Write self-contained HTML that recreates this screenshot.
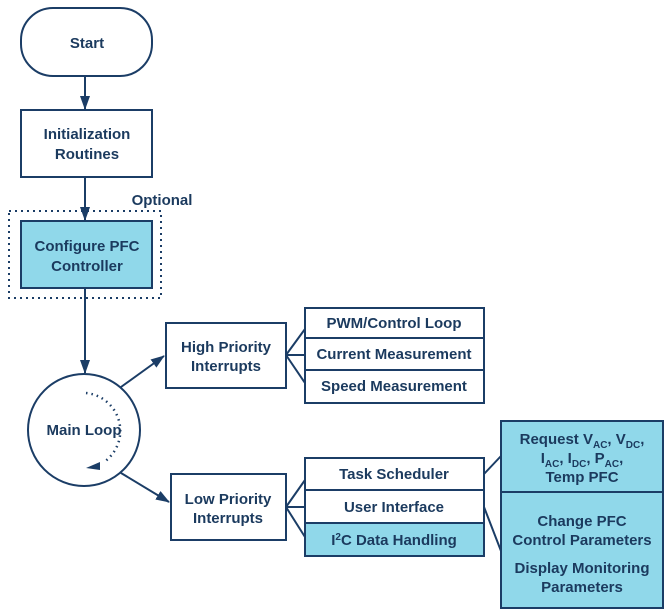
<!DOCTYPE html>
<html><head><style>
body{margin:0;background:#fff;}
svg{display:block;font-family:"Liberation Sans",sans-serif;font-weight:bold;}
text{fill:#1b3a5e;font-size:15px;text-anchor:middle;}
</style></head><body>
<svg width="671" height="616" viewBox="0 0 671 616">
<defs><marker id="a" markerWidth="14" markerHeight="12" refX="13" refY="6" orient="auto" markerUnits="userSpaceOnUse"><path d="M0,1 L14,6 L0,11 z" fill="#1b3d66"/></marker></defs>
<g stroke="#1b3d66" stroke-width="2" fill="none">
<rect x="21" y="8" width="131" height="68" rx="32" fill="#fff"/>
<rect x="21" y="110" width="131" height="67" fill="#fff"/>
<rect x="9" y="211" width="152" height="87" stroke-dasharray="2,4"/>
<rect x="21" y="221" width="131" height="67" fill="#90d8ea"/>
<line x1="85" y1="76" x2="85" y2="109" marker-end="url(#a)"/>
<line x1="85" y1="177" x2="85" y2="220" marker-end="url(#a)"/>
<line x1="85" y1="288" x2="85" y2="373" marker-end="url(#a)"/>
<circle cx="84" cy="430" r="56" fill="#fff"/>
<path d="M86,393 A38,38 0 0 1 104,462" stroke-dasharray="1.5,4" stroke-width="2.5"/>
<path d="M86,468 L100,462 L100,470 z" fill="#1b3d66" stroke="none"/>
<line x1="121" y1="387" x2="164" y2="356" marker-end="url(#a)"/>
<line x1="121" y1="473" x2="169" y2="502" marker-end="url(#a)"/>
<rect x="166" y="323" width="120" height="65" fill="#fff"/>
<rect x="171" y="474" width="115" height="66" fill="#fff"/>
<path d="M286,355 L305,329 M286,355 L305,355 M286,355 L305,383"/>
<path d="M286,507 L305,480 M286,507 L305,507 M286,507 L305,537"/>
<rect x="305" y="308" width="179" height="30" fill="#fff"/>
<rect x="305" y="338" width="179" height="32" fill="#fff"/>
<rect x="305" y="370" width="179" height="33" fill="#fff"/>
<rect x="305" y="458" width="179" height="32" fill="#fff"/>
<rect x="305" y="490" width="179" height="33" fill="#fff"/>
<rect x="305" y="523" width="179" height="33" fill="#90d8ea"/>
<rect x="501" y="421" width="162" height="187" fill="#90d8ea"/>
<line x1="501" y1="492" x2="663" y2="492"/>
<path d="M484,474 L501,456 M484,507 L501,551"/>
</g>
<text x="87" y="48">Start</text>
<text x="87" y="139">Initialization</text>
<text x="87" y="159">Routines</text>
<text x="162" y="205">Optional</text>
<text x="87" y="251">Configure PFC</text>
<text x="87" y="271">Controller</text>
<text x="84" y="435">Main Loop</text>
<text x="226" y="352">High Priority</text>
<text x="226" y="371">Interrupts</text>
<text x="228" y="504">Low Priority</text>
<text x="228" y="523">Interrupts</text>
<text x="394" y="328">PWM/Control Loop</text>
<text x="394" y="359">Current Measurement</text>
<text x="394" y="391">Speed Measurement</text>
<text x="394" y="479">Task Scheduler</text>
<text x="394" y="512">User Interface</text>
<text x="394" y="545">I<tspan font-size="10" dy="-5">2</tspan><tspan dy="5">C Data Handling</tspan></text>
<text x="582" y="444">Request V<tspan font-size="10" dy="4">AC</tspan><tspan dy="-4">, V</tspan><tspan font-size="10" dy="4">DC</tspan><tspan dy="-4">,</tspan></text>
<text x="582" y="463">I<tspan font-size="10" dy="4">AC</tspan><tspan dy="-4">, I</tspan><tspan font-size="10" dy="4">DC</tspan><tspan dy="-4">, P</tspan><tspan font-size="10" dy="4">AC</tspan><tspan dy="-4">,</tspan></text>
<text x="582" y="482">Temp PFC</text>
<text x="582" y="526">Change PFC</text>
<text x="582" y="545">Control Parameters</text>
<text x="582" y="573">Display Monitoring</text>
<text x="582" y="592">Parameters</text>
</svg>
</body></html>
